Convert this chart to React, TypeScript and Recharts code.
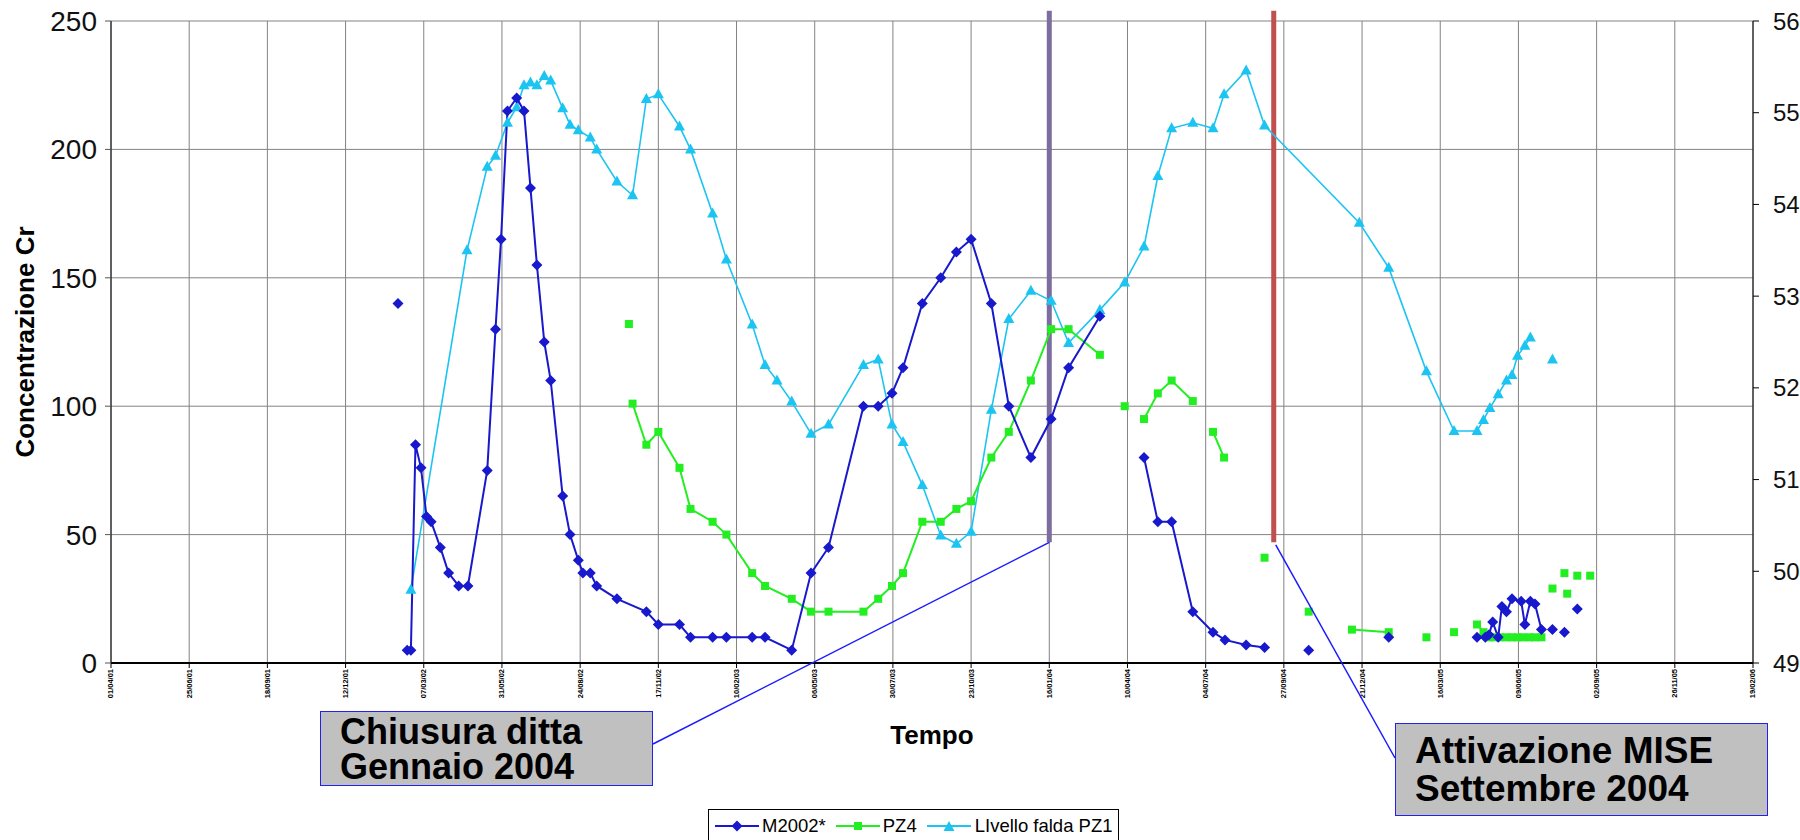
import React from 'react'
import { LineChart, Line, XAxis, YAxis, CartesianGrid, ReferenceLine } from 'recharts'

const FONT = '"Liberation Sans", Arial, sans-serif'

// dates are Excel serial numbers (days since 30/12/1899), as in the source sheet
const X_TICKS = [
  36982, 37067, 37152, 37237, 37322, 37407, 37492, 37577, 37662, 37747, 37832,
  37917, 38002, 38087, 38172, 38257, 38342, 38427, 38512, 38597, 38682, 38767,
]
const Y_LEFT_TICKS = [0, 50, 100, 150, 200, 250]
const Y_RIGHT_TICKS = [49, 50, 51, 52, 53, 54, 55, 56]

// M2002* - concentrazione Cr (null = interruzione della linea)
const M2002_DATE = [
  37294, 37300, 37304, 37308, 37313, 37319, 37325, 37330, 37340, 37349, 37360, 37370,
  37391, 37400, 37406, 37413, 37423, 37431, 37438, 37445, 37453, 37460, 37473, 37481,
  37490, 37495, 37503, 37510, 37532, 37564, 37577, 37600, 37612, 37636, 37651, 37679,
  37693, 37722, 37743, 37762, 37800, 37816, 37831, 37843, 37864, 37884, 37901, 37917,
  37939, 37958, 37982, 38004, 38023, 38057, 38080, 38105, 38120, 38135, 38158, 38180,
  38193, 38216, 38236, 38260, 38284, 38320, 38371, 38420, 38467, 38476, 38480, 38484,
  38490, 38494, 38499, 38505, 38515, 38519, 38525, 38530, 38537, 38540, 38549, 38555,
  38562, 38568, 38576,
]
const M2002_VAL = [
  140, null, 5, 5, 85, 76, 57, 55, 45, 35, 30, 30,
  75, 130, 165, 215, 220, 215, 185, 155, 125, 110, 65, 50,
  40, 35, 35, 30, 25, 20, 15, 15, 10, 10, 10, 10,
  10, 5, 35, 45, 100, 100, 105, 115, 140, 150, 160, 165,
  140, 100, 80, 95, 115, 135, null, 80, 55, 55, 20, 12,
  9, 7, 6, null, 5, null, 10, null, 10, 10, 11, 16,
  10, 22, 20, 25, 24, 15, 24, 23, 13, null, 13, null,
  12, null, 21,
]

// PZ4 - concentrazione Cr
const PZ4_DATE = [
  37545, 37547, 37549, 37564, 37577, 37600, 37612, 37636, 37651, 37679, 37693, 37722,
  37743, 37762, 37800, 37816, 37831, 37843, 37864, 37884, 37901, 37917, 37939, 37958,
  37982, 38004, 38023, 38057, 38070, 38084, 38095, 38105, 38120, 38135, 38158, 38170,
  38180, 38192, 38210, 38236, 38260, 38284, 38310, 38331, 38371, 38400, 38412, 38430,
  38442, 38455, 38467, 38474, 38480, 38486, 38492, 38499, 38505, 38511, 38517, 38524,
  38530, 38537, 38543, 38549, 38555, 38562, 38563, 38565, 38570, 38576, 38582, 38590,
]
const PZ4_VAL = [
  132, null, 101, 85, 90, 76, 60, 55, 50, 35, 30, 25,
  20, 20, 20, 25, 30, 35, 55, 55, 60, 63, 80, 90,
  110, 130, 130, 120, null, 100, null, 95, 105, 110, 102, null,
  90, 80, null, 41, null, 20, null, 13, 12, null, 10, null,
  12, null, 15, 12, 10, 10, 10, 10, 10, 10, 10, 10,
  10, 10, null, 29, null, 35, null, 27, null, 34, null, 34,
]

// Livello falda PZ1 (asse destro, m)
const PZ1_DATE = [
  37308, 37369, 37391, 37400, 37413, 37423, 37431, 37438, 37445, 37453, 37460, 37473,
  37481, 37490, 37503, 37510, 37532, 37549, 37564, 37577, 37600, 37612, 37636, 37651,
  37679, 37693, 37706, 37722, 37743, 37762, 37800, 37816, 37831, 37843, 37864, 37884,
  37901, 37917, 37939, 37958, 37982, 38004, 38023, 38057, 38084, 38105, 38120, 38135,
  38158, 38180, 38192, 38216, 38236, 38339, 38371, 38412, 38442, 38467, 38474, 38481,
  38490, 38499, 38505, 38511, 38519, 38525, 38537, 38549,
]
const PZ1_VAL = [
  49.8, 53.5, 54.41, 54.53, 54.89, 55.06, 55.3, 55.33, 55.3, 55.4, 55.35, 55.05,
  54.87, 54.81, 54.73, 54.6, 54.25, 54.1, 55.15, 55.2, 54.85, 54.6, 53.9, 53.4,
  52.69, 52.25, 52.08, 51.85, 51.5, 51.6, 52.25, 52.31, 51.6, 51.41, 50.94, 50.39,
  50.3, 50.43, 51.76, 52.75, 53.06, 52.95, 52.49, 52.85, 53.15, 53.54, 54.31, 54.83,
  54.89, 54.83, 55.2, 55.46, 54.86, 53.8, 53.31, 52.18, 51.53, 51.53, 51.65, 51.78,
  51.93, 52.08, 52.14, 52.35, 52.46, 52.55, null, 52.31,
]

// eventi: chiusura ditta (gen 2004) e attivazione MISE (set 2004)
const EVENT_DATES = [38002, 38246]
const EVENT_LOW = 47
const EVENT_HIGH = 254

const C_M2002 = '#1818cc'
const C_PZ4 = '#22ee22'
const C_PZ1 = '#1cc4f2'

const toRows = (dates: number[], vals: (number | null)[]) =>
  dates.map((t, i) => ({ t, v: vals[i] }))

const pad2 = (n: number) => String(n).padStart(2, '0')
const fmtDate = (s: number) => {
  const d = new Date(Date.UTC(1899, 11, 30) + s * 86400000)
  return `${pad2(d.getUTCDate())}/${pad2(d.getUTCMonth() + 1)}/${pad2(d.getUTCFullYear() % 100)}`
}

// plot area, must match margins/axis sizes below
const PLOT = { left: 111, top: 21, right: 1753, bottom: 663 }
const X_DOMAIN = [X_TICKS[0], X_TICKS[X_TICKS.length - 1]]
const xPx = (s: number) =>
  PLOT.left + ((s - X_DOMAIN[0]) / (X_DOMAIN[1] - X_DOMAIN[0])) * (PLOT.right - PLOT.left)
const yPx = (v: number) => PLOT.bottom - (v / 250) * (PLOT.bottom - PLOT.top)

function Diamond(props: any) {
  const { cx, cy, fill } = props
  if (cx == null || cy == null) return <g />
  const r = 5.5
  return <path d={`M${cx},${cy - r}L${cx + r},${cy}L${cx},${cy + r}L${cx - r},${cy}Z`} fill={fill} />
}

function Square(props: any) {
  const { cx, cy, fill } = props
  if (cx == null || cy == null) return <g />
  return <rect x={cx - 4} y={cy - 4} width={8} height={8} fill={fill} />
}

function Triangle(props: any) {
  const { cx, cy, fill } = props
  if (cx == null || cy == null) return <g />
  return <path d={`M${cx},${cy - 6}L${cx + 5.5},${cy + 4}L${cx - 5.5},${cy + 4}Z`} fill={fill} />
}

function DateTick({ x, y, payload }: any) {
  return (
    <g transform={`translate(${x},${y})`}>
      <text transform="rotate(-90)" x={-1} y={0} dy="0.33em" textAnchor="end" fontSize={7.5} fontWeight="bold" fill="#000" fontFamily={FONT}>
        {fmtDate(payload.value)}
      </text>
    </g>
  )
}

function LegendIcon({ color, shape }: { color: string; shape: 'd' | 's' | 't' }) {
  return (
    <svg width={44} height={20} style={{ display: 'block' }}>
      <line x1={0} y1={10} x2={44} y2={10} stroke={color} strokeWidth={2} />
      {shape === 'd' && <Diamond cx={22} cy={10} fill={color} />}
      {shape === 's' && <Square cx={22} cy={10} fill={color} />}
      {shape === 't' && <Triangle cx={22} cy={11} fill={color} />}
    </svg>
  )
}

const boxStyle: React.CSSProperties = {
  position: 'absolute',
  background: '#c0c0c0',
  border: '1.5px solid #2222ee',
  boxSizing: 'border-box',
  fontFamily: FONT,
  fontWeight: 'bold',
  color: '#000',
  paddingLeft: 19,
  whiteSpace: 'nowrap',
}

export default function App() {
  const m2002 = toRows(M2002_DATE, M2002_VAL)
  const pz4 = toRows(PZ4_DATE, PZ4_VAL)
  const pz1 = toRows(PZ1_DATE, PZ1_VAL)

  return (
    <div style={{ position: 'absolute', left: 0, top: 0, width: 1800, height: 840, background: '#fff', overflow: 'hidden' }}>
      <LineChart width={1800} height={840} margin={{ top: 21, right: 0, bottom: 0, left: 0 }} style={{ fontFamily: FONT }}>
        <CartesianGrid yAxisId="left" stroke="#838383" strokeWidth={1} />
        <XAxis
          dataKey="t"
          type="number"
          domain={X_DOMAIN}
          ticks={X_TICKS}
          allowDataOverflow
          height={177}
          tickSize={5}
          tickMargin={0}
          tick={<DateTick />}
          axisLine={{ stroke: '#000', strokeWidth: 2 }}
          tickLine={{ stroke: '#000' }}
          label={{
            content: (p: any) => (
              <text x={p.viewBox.x + p.viewBox.width / 2} y={p.viewBox.y + 81} textAnchor="middle" fontSize={26} fontWeight="bold" fill="#000" fontFamily={FONT}>
                Tempo
              </text>
            ),
          }}
        />
        <YAxis
          yAxisId="left"
          domain={[0, 250]}
          ticks={Y_LEFT_TICKS}
          width={111}
          tickSize={6}
          tickMargin={8}
          tick={{ fontSize: 28, fill: '#111', fontFamily: FONT }}
          axisLine={{ stroke: '#000' }}
          tickLine={{ stroke: '#555' }}
          label={{
            content: (p: any) => {
              const cx = 25
              const cy = p.viewBox.y + p.viewBox.height / 2
              return (
                <text x={cx} y={cy} transform={`rotate(-90 ${cx} ${cy})`} textAnchor="middle" dominantBaseline="central" fontSize={26} fontWeight="bold" fill="#000" fontFamily={FONT}>
                  Concentrazione Cr
                </text>
              )
            },
          }}
        />
        <YAxis
          yAxisId="right"
          orientation="right"
          domain={[49, 56]}
          ticks={Y_RIGHT_TICKS}
          width={47}
          tickSize={6}
          tickMargin={14}
          tick={{ fontSize: 24, fill: '#111', fontFamily: FONT }}
          axisLine={{ stroke: '#000' }}
          tickLine={{ stroke: '#000' }}
        />
        <ReferenceLine
          yAxisId="left"
          segment={[{ x: EVENT_DATES[0], y: EVENT_LOW }, { x: EVENT_DATES[0], y: EVENT_HIGH }]}
          stroke="#7d6c9e"
          strokeWidth={5}
          ifOverflow="visible"
        />
        <ReferenceLine
          yAxisId="left"
          segment={[{ x: EVENT_DATES[1], y: EVENT_LOW }, { x: EVENT_DATES[1], y: EVENT_HIGH }]}
          stroke="#c0504d"
          strokeWidth={5}
          ifOverflow="visible"
        />
        <Line yAxisId="right" data={pz1} dataKey="v" name="LIvello falda PZ1" stroke={C_PZ1} strokeWidth={1.6}
          dot={(p: any) => <Triangle key={p.index} {...p} fill={C_PZ1} />} activeDot={false} connectNulls={false} isAnimationActive={false} />
        <Line yAxisId="left" data={pz4} dataKey="v" name="PZ4" stroke={C_PZ4} strokeWidth={2}
          dot={(p: any) => <Square key={p.index} {...p} fill={C_PZ4} />} activeDot={false} connectNulls={false} isAnimationActive={false} />
        <Line yAxisId="left" data={m2002} dataKey="v" name="M2002*" stroke={C_M2002} strokeWidth={2}
          dot={(p: any) => <Diamond key={p.index} {...p} fill={C_M2002} />} activeDot={false} connectNulls={false} isAnimationActive={false} />
      </LineChart>

      {/* connectors from event lines to the callout boxes */}
      <svg width={1800} height={840} style={{ position: 'absolute', left: 0, top: 0, pointerEvents: 'none' }}>
        <line x1={xPx(EVENT_DATES[0])} y1={yPx(EVENT_LOW)} x2={653} y2={744} stroke="#1a1aff" strokeWidth={1.5} />
        <line x1={xPx(EVENT_DATES[1]) + 2} y1={yPx(EVENT_LOW - 1)} x2={1395} y2={758} stroke="#1a1aff" strokeWidth={1.5} />
      </svg>

      <div style={{ ...boxStyle, left: 320, top: 711, width: 333, height: 75, fontSize: 36, lineHeight: '35px', paddingTop: 2 }}>
        <div>Chiusura ditta</div>
        <div>Gennaio 2004</div>
      </div>
      <div style={{ ...boxStyle, left: 1395, top: 723, width: 373, height: 93, fontSize: 37, lineHeight: '38px', paddingTop: 8 }}>
        <div>Attivazione MISE</div>
        <div>Settembre 2004</div>
      </div>

      <div
        style={{
          position: 'absolute', left: 708, top: 809, width: 411, height: 34, boxSizing: 'border-box',
          border: '1px solid #000', background: '#fff', display: 'flex', alignItems: 'center',
          paddingLeft: 6, fontFamily: FONT, fontSize: 18.5, color: '#000', whiteSpace: 'nowrap',
        }}
      >
        <LegendIcon color={C_M2002} shape="d" />
        <span style={{ marginLeft: 3, marginRight: 10 }}>M2002*</span>
        <LegendIcon color={C_PZ4} shape="s" />
        <span style={{ marginLeft: 3, marginRight: 10 }}>PZ4</span>
        <LegendIcon color={C_PZ1} shape="t" />
        <span style={{ marginLeft: 4 }}>LIvello falda PZ1</span>
      </div>
    </div>
  )
}
